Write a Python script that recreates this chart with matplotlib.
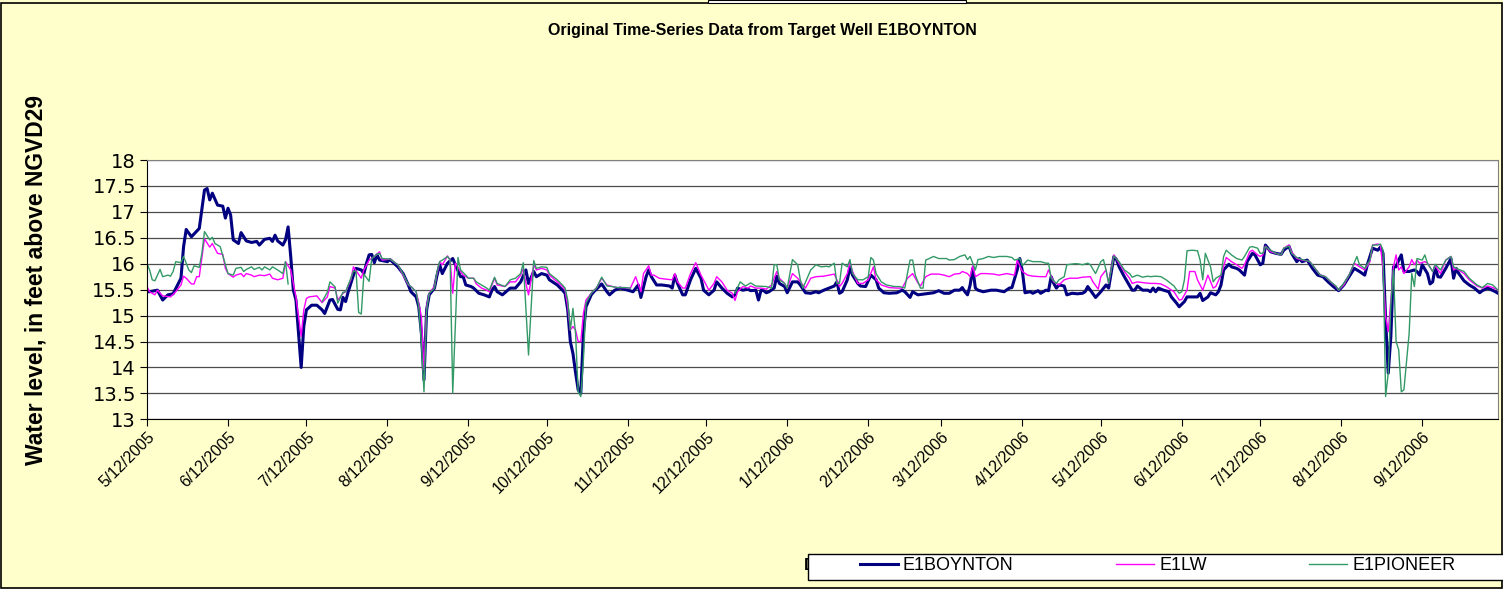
import numpy as np
import matplotlib
matplotlib.use("Agg")
import matplotlib.pyplot as plt
import matplotlib.dates as mdates
from matplotlib.lines import Line2D
from matplotlib.patches import Rectangle
from matplotlib.ticker import FuncFormatter, MultipleLocator
from datetime import datetime

plt.rcParams['font.family'] = ['Liberation Sans', 'DejaVu Sans']

# =============================================================================
# DATOS (días desde 5/12/2005, nivel en pies sobre NGVD29)
# =============================================================================
START = datetime(2005, 5, 12)
END_DAY = 517

BOYNTON_DAY = [0, 1, 4, 6, 8, 10, 12, 13, 14, 15, 17, 20, 22, 23, 24, 25, 27, 29, 30, 31, 32, 33, 35, 36, 38, 40,
               42, 43, 45, 47, 48, 49, 50, 52, 53, 54, 55, 56, 57, 58, 59, 60, 61, 63, 65, 67, 68, 70, 71, 73, 74,
               75, 76, 77, 79, 80, 82, 83, 84, 85, 86, 87, 88, 89, 92, 93, 96, 98, 100,
               101, 103, 104, 105, 106, 107, 108, 110, 111, 112, 113, 115, 117, 118, 120, 121, 122, 124, 125, 127,
               129, 131, 132, 133, 134, 136, 139, 141, 143, 145, 146, 148, 149, 151, 153, 154, 157, 159, 160, 161,
               162, 163, 164, 165, 166, 167, 168, 170, 171, 174, 176, 177, 179, 181, 184, 186, 188, 189, 191, 192,
               193, 195, 197, 200, 201, 202, 203,
               205, 206, 208, 210, 212, 213, 215, 217, 218, 220, 222, 224, 225, 226, 228, 230, 231, 233, 234, 235,
               236, 237, 238, 240, 241, 242, 244, 245, 247, 249, 250, 252, 254, 256, 257, 259, 261, 263, 264, 265,
               266, 268, 269, 270, 272, 273, 275, 277, 279, 280, 282, 284, 287, 289, 290, 292, 293, 295, 298, 301,
               303, 305, 307, 309,
               311, 312, 313, 314, 315, 316, 317, 318, 320, 323, 325, 328, 330, 331, 333, 334, 335, 336, 338, 339,
               341, 342, 344, 345, 346, 347, 348, 349, 351, 352, 354, 356, 358, 359, 360, 361, 363, 365, 367, 368,
               370, 371, 372, 374, 377, 378, 379, 381, 383, 384, 385, 386, 387, 389, 391, 392, 394, 395, 397, 398,
               400, 402, 403, 404, 406, 407, 409, 410, 411, 412, 414,
               415, 417, 418, 420, 421, 423, 424, 426, 427, 428, 430, 432, 434, 435, 437, 438, 440, 441, 442, 444,
               446, 448, 450, 452, 454, 456, 458, 460, 462, 464, 466, 467, 469, 471, 472, 473, 474, 475, 476, 477,
               478, 479, 480, 481, 483, 485, 486, 487, 488, 490, 491, 492, 493, 494, 495, 497, 499, 500, 501, 502,
               504, 506, 508, 510, 511, 513, 514, 516, 517]
BOYNTON_FT = [15.46, 15.46, 15.49, 15.30, 15.40, 15.42, 15.62, 15.72, 16.33, 16.66, 16.52, 16.68, 17.42, 17.45,
              17.23, 17.36, 17.13, 17.11, 16.88, 17.07, 16.94, 16.46, 16.39, 16.60, 16.44, 16.41, 16.43, 16.36,
              16.47, 16.49, 16.43, 16.55, 16.44, 16.36, 16.46, 16.71, 16.14, 15.49, 15.30, 14.66, 14.00, 14.79,
              15.11, 15.20, 15.20, 15.11, 15.04, 15.30, 15.31, 15.12, 15.11, 15.35, 15.27, 15.46, 15.78, 15.91,
              15.88, 15.81, 16.01, 16.17, 16.18, 16.02, 16.17, 16.07, 16.04, 16.08, 15.94, 15.81, 15.59,
              15.46, 15.36, 15.17, 14.66, 13.76, 15.11, 15.40, 15.53, 15.78, 15.98, 15.81, 16.01, 16.10, 15.98,
              15.75, 15.75, 15.59, 15.56, 15.53, 15.43, 15.40, 15.36, 15.49, 15.56, 15.46, 15.40, 15.53, 15.53,
              15.65, 15.88, 15.62, 15.85, 15.75, 15.81, 15.78, 15.69, 15.59, 15.49, 15.43, 15.11, 14.50, 14.27,
              13.90, 13.57, 13.50, 14.66, 15.17, 15.40, 15.46, 15.61, 15.46, 15.40, 15.49, 15.53, 15.49, 15.46,
              15.59, 15.35, 15.75, 15.88, 15.75, 15.59, 15.59, 15.57, 15.53, 15.78, 15.62,
              15.40, 15.40, 15.69, 15.91, 15.72, 15.49, 15.40, 15.49, 15.65, 15.53, 15.43, 15.36, 15.40, 15.53,
              15.49, 15.51, 15.48, 15.49, 15.30, 15.49, 15.48, 15.44, 15.46, 15.53, 15.76, 15.62, 15.56, 15.44,
              15.65, 15.65, 15.59, 15.44, 15.43, 15.46, 15.44, 15.49, 15.53, 15.57, 15.65, 15.43, 15.46, 15.69,
              15.93, 15.78, 15.62, 15.57, 15.56, 15.78, 15.69, 15.53, 15.44, 15.43, 15.44, 15.49, 15.46, 15.35,
              15.46, 15.40, 15.42, 15.44, 15.48, 15.43, 15.43, 15.49,
              15.49, 15.54, 15.46, 15.40, 15.59, 15.91, 15.53, 15.49, 15.46, 15.49, 15.49, 15.46, 15.53, 15.54,
              15.88, 16.10, 15.85, 15.44, 15.46, 15.43, 15.48, 15.43, 15.49, 15.48, 15.75, 15.62, 15.53, 15.59,
              15.57, 15.40, 15.43, 15.42, 15.43, 15.46, 15.56, 15.49, 15.35, 15.46, 15.59, 15.53, 16.14, 16.08,
              15.94, 15.75, 15.49, 15.49, 15.57, 15.49, 15.49, 15.46, 15.53, 15.46, 15.53, 15.49, 15.46, 15.36,
              15.24, 15.17, 15.27, 15.36, 15.36, 15.36, 15.43, 15.29, 15.36, 15.44, 15.40, 15.46, 15.59, 15.88,
              15.99,
              15.94, 15.91, 15.88, 15.78, 16.04, 16.20, 16.17, 15.98, 16.01, 16.36, 16.23, 16.20, 16.18, 16.26,
              16.34, 16.20, 16.04, 16.10, 16.04, 16.07, 15.91, 15.78, 15.75, 15.65, 15.56, 15.48, 15.59, 15.75,
              15.91, 15.85, 15.78, 15.98, 16.30, 16.26, 16.32, 16.20, 14.92, 13.89, 14.60, 15.94, 15.94, 16.07,
              16.17, 15.85, 15.85, 15.88, 15.85, 15.78, 15.98, 15.81, 15.61, 15.65, 15.94, 15.75, 15.74, 15.91,
              16.10, 15.72, 15.91, 15.81, 15.67, 15.59, 15.53, 15.44, 15.48, 15.53, 15.51, 15.46, 15.43]

LW_DAY = [0, 1, 3, 4, 6, 9, 11, 13, 14, 15, 17, 18, 19, 20, 22, 24, 25, 27, 29, 30, 31, 33, 34, 36, 37, 38, 40,
          41, 43, 45, 47, 48, 50, 52, 53, 55, 56, 57, 59, 60, 61, 62, 65, 67, 69, 70, 72, 73, 75, 76, 78, 79, 82,
          83, 85, 87, 89, 90, 93, 96, 98, 100,
          101, 103, 104, 105, 106, 107, 108, 110, 111, 112, 113, 115, 116, 117, 118, 120, 121, 123, 125, 126, 128,
          130, 131, 133, 134, 137, 139, 141, 143, 144, 145, 146, 148, 149, 151, 153, 154, 157, 159, 160, 161, 162,
          163, 164, 165, 166, 167, 168, 170, 172, 174, 176, 178, 180, 182, 185, 187, 189, 190, 192, 193, 194, 196,
          199, 201, 202, 203,
          205, 206, 208, 210, 212, 214, 215, 217, 218, 220, 222, 224, 225, 226, 228, 230, 231, 233, 235, 237, 239,
          241, 242, 244, 245, 247, 249, 251, 252, 254, 256, 259, 261, 263, 264, 265, 266, 268, 269, 270, 272, 274,
          276, 278, 279, 281, 284, 287, 289, 291, 293, 295, 296, 298, 300, 303, 305, 307, 309,
          311, 312, 314, 315, 316, 317, 319, 321, 324, 326, 329, 332, 333, 335, 337, 339, 342, 344, 345, 347, 349,
          351, 353, 356, 358, 361, 362, 364, 365, 367, 368, 370, 372, 374, 376, 377, 379, 382, 384, 386, 388, 390,
          393, 395, 396, 398, 399, 401, 402, 404, 406, 408, 409, 411,
          413, 415, 417, 419, 420, 422, 423, 425, 426, 427, 428, 430, 432, 434, 435, 437, 438, 440, 442, 445, 447,
          449, 451, 453, 455, 456, 458, 460, 462, 464, 466, 468, 469, 471, 472, 473, 474, 475, 476, 477, 478, 479,
          480, 481, 483, 484, 485, 486, 487, 489, 490, 492, 493, 495, 497, 499, 500, 501, 504, 506, 509, 511, 513,
          515, 517]
LW_FT = [15.56, 15.46, 15.40, 15.49, 15.38, 15.36, 15.46, 15.59, 15.76, 15.72, 15.61, 15.61, 15.75, 15.75, 16.48,
         16.32, 16.39, 16.20, 16.18, 15.91, 15.81, 15.74, 15.78, 15.81, 15.75, 15.81, 15.78, 15.75, 15.78, 15.77,
         15.80, 15.72, 15.69, 15.72, 16.04, 15.88, 15.62, 15.36, 14.60, 15.11, 15.33, 15.36, 15.38, 15.25, 15.36,
         15.56, 15.53, 15.30, 15.43, 15.46, 15.69, 15.94, 15.72, 15.88, 16.07, 16.14, 16.23, 16.07, 16.09, 15.98,
         15.78, 15.59,
         15.56, 15.46, 15.24, 14.98, 13.95, 15.17, 15.43, 15.56, 15.81, 16.04, 15.98, 16.15, 16.07, 15.43, 16.01,
         15.85, 15.78, 15.72, 15.72, 15.61, 15.53, 15.49, 15.46, 15.72, 15.59, 15.56, 15.65, 15.65, 15.78, 15.91,
         15.62, 15.40, 15.98, 15.88, 15.91, 15.88, 15.78, 15.65, 15.56, 15.49, 15.17, 14.72, 14.79, 14.72, 14.50,
         14.50, 15.04, 15.30, 15.43, 15.53, 15.72, 15.59, 15.56, 15.54, 15.54, 15.53, 15.75, 15.46, 15.81, 15.96,
         15.78, 15.78, 15.72, 15.70, 15.69, 15.81, 15.65,
         15.53, 15.53, 15.81, 16.02, 15.78, 15.59, 15.49, 15.62, 15.75, 15.65, 15.49, 15.43, 15.29, 15.46, 15.56,
         15.53, 15.57, 15.53, 15.53, 15.51, 15.59, 15.85, 15.72, 15.62, 15.53, 15.81, 15.72, 15.59, 15.53, 15.72,
         15.75, 15.76, 15.78, 15.80, 15.69, 15.56, 15.62, 15.81, 16.02, 15.85, 15.62, 15.62, 15.69, 15.94, 15.69,
         15.59, 15.54, 15.53, 15.53, 15.72, 15.81, 15.63, 15.57, 15.75, 15.80, 15.80, 15.78, 15.75, 15.80,
         15.81, 15.85, 15.81, 15.75, 15.96, 15.75, 15.81, 15.81, 15.80, 15.78, 15.81, 15.78, 16.07, 15.85, 15.78,
         15.76, 15.75, 15.75, 15.88, 15.65, 15.59, 15.69, 15.72, 15.72, 15.74, 15.75, 15.65, 15.51, 15.75, 15.88,
         15.62, 16.17, 16.01, 15.85, 15.72, 15.62, 15.65, 15.63, 15.62, 15.62, 15.61, 15.56, 15.46, 15.30, 15.31,
         15.49, 15.85, 15.85, 15.69, 15.49, 15.78, 15.53, 15.56, 15.78,
         16.12, 16.04, 15.98, 15.91, 15.98, 16.23, 16.26, 16.17, 16.14, 16.17, 16.34, 16.23, 16.20, 16.17, 16.30,
         16.36, 16.23, 16.10, 16.07, 16.04, 15.91, 15.78, 15.75, 15.65, 15.56, 15.49, 15.59, 15.78, 16.01, 15.94,
         15.88, 16.04, 16.36, 16.38, 16.36, 15.88, 14.98, 14.69, 15.30, 15.94, 16.17, 15.88, 15.94, 15.81, 15.94,
         16.08, 15.98, 16.07, 16.01, 16.04, 16.01, 15.85, 15.96, 15.81, 16.07, 16.14, 15.88, 15.91, 15.81, 15.69,
         15.57, 15.53, 15.57, 15.54, 15.49]

nan = np.nan
PIONEER_DAY = [0, 1, 2, 3, 5, 6, 8, 9, 10, 11, 13, 14, 15, 16, 17, 18, 20, 21, 22, 24, 25, 26, 28, 30, 31, 33,
               34, 36, 37, 38, 40, 41, 43, 44, 45, 47, 48, 50, 52, 53, 54, 55,
               67, 69, 70, 72, 73, 75, 76, 78, 79, 80, 81, 82, 83, 85, 86, 88, 89, 90, 93, 96, 98, 100,
               101, 103, 104, 105, 106, 107, 108, 110, 111, 112, 113, 115, 116, 117, 119, 120, 122, 123, 125, 126,
               128, 130, 131, 133, 134, 137, 139, 141, 143, 144, 146, 148, 149, 151, 153, 154, 157, 159, 160, 161,
               162, 163, 164, 165, 166, 167, 168, 170, 172, 174, 176, 178, 180, 183, 185, 186,
               225, 227, 229, 231, 233, 237, 239, 240, 241, 242, 244, 245, 247, 249, 250, 251, 254, 256, 258, 260,
               261, 263, 264, 265, 266, 268, 269, 270, 272, 274, 276, 277, 278, 279, 281, 283, 286, 288, 290, 291,
               292, 293, 294, 296, 297, 298, 301, 303, 306, 307,
               309, 311, 313, 314, 315, 317, 318, 320, 322, 324, 326, 329, 331, 332, 334, 335, 337, 339, 342, 344,
               345, 346, 348, 349, 351, 352, 355, 356, 358, 360, 361, 363, 365, 366, 367, 368, 370, 372, 374, 376,
               377, 379, 381, 383, 384, 386, 388, 390, 393, 395, 396, 397, 398, 400, 402, 403, 404, 405, 407, 408,
               409, 411, 412,
               413, 415, 417, 419, 420, 422, 423, 425, 426, 427, 428, 430, 432, 434, 435, 437, 438, 440, 442, 445,
               447, 449, 451, 453, 455, 456, 458, 460, 463, 464, 466, 468, 469, 471, 472, 473, 474, 475, 476, 477,
               478, 479, 480, 481, 483, 484, 485, 486, 488, 489, 490, 492, 493, 495, 497, 499, 500, 502, 504, 506,
               509, 511, 513, 515, 517]
PIONEER_FT = [16.00, 15.88, 15.69, 15.67, 15.89, 15.75, 15.78, 15.76, 15.85, 16.04, 16.02, 16.14, 16.01, 15.88,
              15.83, 15.96, 15.93, 16.20, 16.62, 16.46, 16.51, 16.39, 16.33, 15.98, 15.81, 15.78, 15.91, 15.93,
              15.85, 15.89, 15.94, 15.89, 15.93, 15.88, 15.94, 15.88, 15.94, 15.88, 15.81, 16.04, 15.61, nan,
              15.27, 15.45, 15.65, 15.55, 15.24, 15.45, 15.46, 15.72, 15.86, 15.85, 15.06, 15.03, 15.80, 15.66,
              16.10, 16.18, 16.20, 16.10, 16.09, 15.98, 15.80, 15.60,
              15.56, 15.46, 15.17, 14.47, 13.53, 15.11, 15.43, 15.53, 15.85, 16.04, 16.07, 16.14, 16.07, 13.51,
              16.12, 15.88, 15.78, 15.72, 15.72, 15.65, 15.59, 15.53, 15.49, 15.74, 15.62, 15.56, 15.69, 15.72,
              15.81, 16.02, 14.24, 16.06, 15.91, 15.94, 15.93, 15.81, 15.69, 15.59, 15.53, 15.30, 14.72, 15.14,
              14.66, 13.53, 13.44, 14.14, 15.24, 15.43, 15.53, 15.74, 15.57, 15.56, 15.54, 15.54, 15.53, nan,
              15.43, 15.65, 15.57, 15.63, 15.57, 15.56, 15.53, 15.98, 15.98, 15.69, 15.62, 15.53, 16.08, 15.98,
              15.69, 15.53, 15.88, 15.98, 15.94, 15.95, 15.94, 16.01, 15.62, 15.62, 16.01, 15.94, 16.08, 15.81,
              15.69, 15.69, 15.75, 16.12, 16.07, 15.81, 15.65, 15.59, 15.56, 15.56, 15.53, 15.81, 16.07, 16.07,
              15.78, 15.53, 15.53, 16.07, 16.14, 16.10, 16.10, 16.07,
              16.08, 16.14, 16.17, 16.08, 16.14, 15.88, 16.08, 16.10, 16.14, 16.12, 16.14, 16.14, 16.12, 16.07,
              16.10, 15.96, 16.07, 16.04, 16.04, 16.01, 16.01, 15.72, 15.62, 15.69, 15.75, 15.98, 16.00, 16.00,
              15.98, 16.01, 15.98, 15.81, 16.04, 16.08, 15.88, 15.62, 16.15, 16.04, 15.88, 15.81, 15.74, 15.78,
              15.74, 15.76, 15.75, 15.76, 15.75, 15.69, 15.57, 15.43, 15.46, 15.69, 16.25, 16.26, 16.25, 16.07,
              15.69, 16.20, 15.94, 15.65, 15.72, 15.78, 16.14,
              16.26, 16.17, 16.10, 16.07, 16.14, 16.32, 16.33, 16.30, 16.20, 16.20, 16.33, 16.26, 16.20, 16.17,
              16.30, 16.34, 16.20, 16.12, 16.08, 16.04, 15.91, 15.78, 15.75, 15.65, 15.57, 15.49, 15.62, 15.78,
              16.14, 15.98, 15.91, 16.07, 16.36, 16.36, 16.38, 16.26, 13.44, 13.89, 15.24, 15.88, 14.50, 14.34,
              13.53, 13.57, 14.66, 15.81, 15.56, 16.10, 16.07, 16.17, 16.01, 15.85, 15.99, 15.88, 16.07, 16.14,
              15.94, 15.89, 15.85, 15.72, 15.59, 15.54, 15.62, 15.59, 15.49]

SERIES = ["E1BOYNTON", "E1LW", "E1PIONEER"]
COLORES = ["#000080", "#FF00FF", "#339966"]
ANCHOS = [2.2, 1.0, 1.0]

TITULO = "Original Time-Series Data from Target Well E1BOYNTON"
ETIQUETA_Y = "Water level, in feet above NGVD29"
ETIQUETA_X = "Date"

# =============================================================================
# GRÁFICA
# =============================================================================
W, H = 1503, 589
fig = plt.figure(figsize=(W / 100, H / 100), dpi=100, facecolor="#FFFFCC")
ax = fig.add_axes([147 / W, 1 - 419.3 / H, (1498 - 147) / W, (419.3 - 160) / H])
ax.set_facecolor("white")

base = mdates.date2num(START)
datos = [(BOYNTON_DAY, BOYNTON_FT), (LW_DAY, LW_FT), (PIONEER_DAY, PIONEER_FT)]
for (dias, nivel), nombre, col, lw in zip(datos, SERIES, COLORES, ANCHOS):
    ax.plot(base + np.array(dias, dtype=float), np.array(nivel, dtype=float),
            color=col, lw=lw, label=nombre, solid_joinstyle="round")

ax.set_xlim(base, base + END_DAY)
ax.set_ylim(13, 18)
ax.yaxis.set_major_locator(MultipleLocator(0.5))
ax.yaxis.set_major_formatter(FuncFormatter(lambda v, p: f"{v:g}"))
ax.xaxis.set_major_locator(mdates.MonthLocator(bymonthday=12))
ax.xaxis.set_major_formatter(FuncFormatter(
    lambda v, p: "{d.month}/{d.day}/{d.year}".format(d=mdates.num2date(v))))

ax.grid(axis="y", color="#4d4d4d", lw=0.9)
ax.set_axisbelow(True)
for lado in ["top", "right"]:
    ax.spines[lado].set_color("#808080")
for lado in ["left", "bottom"]:
    ax.spines[lado].set_color("black")
ax.tick_params(axis="both", direction="out", length=5, color="black")
ax.tick_params(axis="x", labelsize=11.5, pad=2)
ax.tick_params(axis="y", labelsize=14, pad=3)
for t in ax.get_yticklabels():
    t.set_fontfamily("DejaVu Sans")
plt.setp(ax.get_xticklabels(), rotation=45, ha="right", rotation_mode="anchor")

fig.text(762 / W, 1 - 31 / H, TITULO, ha="center", va="center", fontsize=11.5, fontweight="bold")
fig.text(36 / W, 1 - 280 / H, ETIQUETA_Y, rotation=90, ha="center", va="center",
         fontsize=16.5, fontweight="bold")
fig.text(822 / W, 1 - 565 / H, ETIQUETA_X, ha="center", va="center", fontsize=12,
         fontweight="bold", zorder=2)

# marco de la leyenda y leyenda
fig.patches.append(Rectangle((808 / W, 1 - 580 / H), (1515 - 808) / W, 26 / H,
                             transform=fig.transFigure, facecolor="white", edgecolor="black",
                             lw=1.0, zorder=4))
handles = [Line2D([], [], color=c, lw=l) for c, l in zip(COLORES, ANCHOS)]
fig.legend(handles, SERIES, loc="center left", bbox_to_anchor=(860 / W, 1 - 566 / H),
           ncol=3, frameon=False, fontsize=13, handlelength=2.1, handletextpad=0.28,
           columnspacing=5.68, borderpad=0, borderaxespad=0)

# marco exterior
fig.patches.append(Rectangle((1.5 / W, 1.5 / H), (W - 3) / W, (H - 4.5) / H,
                             transform=fig.transFigure, fill=False, edgecolor="black", lw=1.2))
fig.patches.append(Rectangle((708 / W, 1 - 3 / H), (966 - 708) / W, 3 / H,
                             transform=fig.transFigure, facecolor="white", edgecolor="black", lw=0.8))

fig.savefig("out.png", dpi=100, facecolor=fig.get_facecolor())
